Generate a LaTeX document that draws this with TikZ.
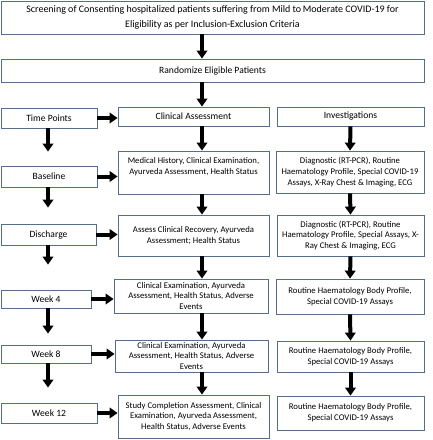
\documentclass[tikz,border=0pt]{standalone}
\usepackage{fontspec}
\setmainfont{Carlito}
\usetikzlibrary{arrows.meta, calc}
\definecolor{boxline}{RGB}{84,110,140}
\tikzset{
  box/.style = {draw=boxline, line width=0.8pt, align=center, inner sep=1pt,
    font=\fontsize{8.7}{10.8}\selectfont, text=black},
  head/.style = {box, font=\fontsize{9.6}{11.5}\selectfont},
  fat/.style = {line width=4pt, -{Triangle[width=10.5pt, length=8pt]}}
}

\begin{document}
\begin{tikzpicture}[x=1pt, y=-1pt]
\useasboundingbox (0,0) rectangle (432,440);
\coordinate (mid) at (202,0);
\coordinate (lft) at (48,0);
\node[head, minimum width=423pt, minimum height=33pt, font=\fontsize{10}{14.5}\selectfont] (screen) at (212.5,17.5)
  {Screening of Consenting hospitalized patients suffering from Mild to\,Moderate COVID-19 for\\Eligibility as per Inclusion-Exclusion Criteria};
\node[head, minimum width=423pt, minimum height=23pt] (rand) at (212.5,70.5) {Randomize Eligible Patients};

\node[head, minimum width=96pt, minimum height=20pt] (tp) at (49,118) {Time Points};
\node[head, minimum width=151pt, minimum height=19pt] (ca) at (193.5,116.5) {Clinical Assessment};
\node[head, minimum width=147pt, minimum height=19pt] (inv) at (350.5,116.5) {Investigations};

\node[head, minimum width=96pt, minimum height=21pt] (base) at (49,176.5) {Baseline};
\node[box, minimum width=151pt, minimum height=43pt] (med) at (193.5,172.5)
  {Medical History, Clinical Examination,\\Ayurveda Assessment, Health Status\\[3pt]};
\node[box, minimum width=148pt, minimum height=42pt] (diagA) at (350,172)
  {Diagnostic (RT-PCR), Routine\\Haematology Profile, Special COVID-19\\Assays, X-Ray Chest \& Imaging, ECG};

\node[head, minimum width=95pt, minimum height=21pt] (dis) at (48.5,234.5) {Discharge};
\node[box, minimum width=151pt, minimum height=41pt] (assess) at (193.5,235.5)
  {Assess Clinical Recovery, Ayurveda\\Assessment; Health Status};
\node[box, minimum width=147pt, minimum height=41pt] (diagB) at (350.5,235.5)
  {Diagnostic (RT-PCR), Routine\\Haematology Profile, Special Assays, X-\\Ray Chest \& Imaging, ECG};

\node[head, minimum width=90pt, minimum height=18pt] (wfour) at (46,299) {Week 4};
\node[box, minimum width=154pt, minimum height=34pt] (ceA) at (191,296)
  {Clinical Examination, Ayurveda\\Assessment, Health Status, Adverse\\Events};
\node[box, minimum width=148pt, minimum height=35pt] (rtA) at (350,296.5)
  {Routine Haematology Body Profile,\\Special COVID-19 Assays};

\node[head, minimum width=90pt, minimum height=18pt] (weight) at (46,354) {Week 8};
\node[box, minimum width=153pt, minimum height=32pt] (ceB) at (191.5,356)
  {Clinical Examination, Ayurveda\\Assessment, Health Status, Adverse\\Events};
\node[box, minimum width=147pt, minimum height=31pt] (rtB) at (350.5,356.5)
  {Routine Haematology Body Profile,\\Special COVID-19 Assays};

\node[head, minimum width=96pt, minimum height=20pt] (wtwelve) at (49,413) {Week 12};
\node[box, minimum width=151pt, minimum height=43pt] (sc) at (193.5,416.5)
  {Study Completion Assessment, Clinical\\Examination, Ayurveda Assessment,\\Health Status, Adverse Events};
\node[box, minimum width=147pt, minimum height=34pt] (rtC) at (350.5,413)
  {Routine Haematology Body Profile,\\Special COVID-19 Assays};

\draw[fat] (screen.south -| mid) -- (rand.north -| mid);
\draw[fat] (rand.south -| mid) -- (ca.north -| mid);
\draw[fat] (ca.south -| mid) -- (med.north -| mid);
\draw[fat] (med.south -| mid) -- (assess.north -| mid);
\draw[fat] (assess.south -| mid) -- (ceA.north -| mid);
\draw[fat] (ceA.south -| mid) -- (ceB.north -| mid);
\draw[fat] (ceB.south -| mid) -- (sc.north -| mid);

\draw[fat] (inv.south) -- (diagA.north);
\draw[fat] (diagA.south) -- (diagB.north);
\draw[fat] (diagB.south) -- (rtA.north);
\draw[fat] (rtA.south) -- (rtB.north);
\draw[fat] (rtB.south) -- (rtC.north);

\draw[fat, shorten >=14pt] (tp.south -| lft) -- (base.north -| lft);
\draw[fat, shorten >=16pt] (base.south -| lft) -- (dis.north -| lft);
\draw[fat, shorten >=25pt] (dis.south -| lft) -- (wfour.north -| lft);
\draw[fat, shorten >=11pt] (wfour.south -| lft) -- (weight.north -| lft);
\draw[fat, shorten >=15pt] (weight.south -| lft) -- (wtwelve.north -| lft);

\draw[fat] (tp.east) -- (tp.east -| ca.west);
\draw[fat] (base.east) -- (base.east -| med.west);
\draw[fat] (dis.east) -- (dis.east -| assess.west);
\draw[fat] (wfour.east) -- (wfour.east -| ceA.west);
\draw[fat] (weight.east) -- (weight.east -| ceB.west);
\draw[fat] (wtwelve.east) -- (wtwelve.east -| sc.west);
\end{tikzpicture}
\end{document}
